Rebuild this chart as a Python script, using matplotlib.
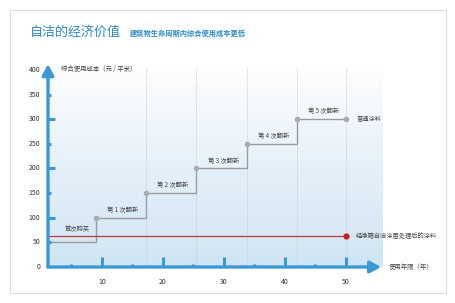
import numpy as np
import matplotlib
matplotlib.use("Agg")
import matplotlib.pyplot as plt
from matplotlib.patches import Rectangle, FancyArrowPatch
from matplotlib.colors import LinearSegmentedColormap

plt.rcParams['font.family'] = ['Noto Sans CJK SC', 'DejaVu Sans']

# ---- data ----
renew_years = [1.15, 9.0, 17.2, 25.4, 33.8, 42.0]       # start / renovation times
cost_levels = [50, 100, 150, 200, 250, 300]             # cumulative cost (元/平米)
end_year = 50
step_labels = ["首次购买", "第 1 次翻新", "第 2 次翻新", "第 3 次翻新", "第 4 次翻新", "第 5 次翻新"]
selfclean_cost = 63
x_ticks = [10, 20, 30, 40, 50]
y_ticks = [0, 50, 100, 150, 200, 250, 300, 350, 400]
series_normal = "普通涂料"
series_clean = "经净箱自洁涂层处理后的涂料"
title = "自洁的经济价值"
subtitle = "建筑物生命周期内综合使用成本更低"
ylabel = "综合使用成本（元 / 平米）"
xlabel = "使用年限（年）"

W, H = 455, 303
fig = plt.figure(figsize=(W / 100, H / 100), dpi=100)
fig.patch.set_facecolor("white")

# frame
fig.patches.append(Rectangle((10 / W, 10 / H), 436 / W, 283 / H, transform=fig.transFigure,
                             fill=False, edgecolor="#dcdcdc", lw=0.8))

fig.text(30 / W, 1 - 32 / H, title, fontsize=9.4, color="#2a8cc4", va="center", ha="left")
fig.text(130 / W, 1 - 33 / H, subtitle, fontsize=5.2, color="#2a8cc4", va="center", ha="left",
         fontweight="bold")

xmin, xmax = 1.15, 56.1
ymin, ymax = 0, 415
ax = fig.add_axes([48 / W, (H - 267) / H, (383 - 48) / W, (267 - 62.6) / H])
ax.set_xlim(xmin, xmax)
ax.set_ylim(ymin, ymax)
ax.axis("off")

# gradient background
grad = np.linspace(0, 1, 256).reshape(-1, 1)
cmap = LinearSegmentedColormap.from_list("bg", ["#cfe5f3", "#e6f1f9", "#ffffff"])
ax.imshow(grad, extent=[xmin, xmax, ymin, ymax], origin="lower", aspect="auto", cmap=cmap, zorder=0)

# dashed vertical gridlines
for xv in renew_years[2:] + [end_year]:
    ax.plot([xv, xv], [0, 405], ls=(0, (1.5, 1.5)), color="#c4c8cc", lw=0.6, zorder=1)

# step line (normal paint)
xs, ys = [], []
for i, (x0, lvl) in enumerate(zip(renew_years, cost_levels)):
    x1 = renew_years[i + 1] if i + 1 < len(renew_years) else end_year
    xs += [x0, x1]
    ys += [lvl, lvl]
ax.plot(xs, ys, color="#9a9ca0", lw=1.0, zorder=3, solid_joinstyle="miter")
ax.scatter(renew_years[1:] + [end_year], cost_levels[1:] + [cost_levels[-1]], s=16,
           color="#a9abb2", zorder=4, linewidths=0)

# step labels
for i, (x0, lvl, lab) in enumerate(zip(renew_years, cost_levels, step_labels)):
    x1 = renew_years[i + 1] if i + 1 < len(renew_years) else end_year
    off = 27 if i == 0 else 16
    xc = (x0 + x1) / 2 + (0.8 if i == 0 else 0.3)
    ax.text(xc, lvl + off, lab, fontsize=4.5, color="#444444", ha="center", va="center", zorder=5)

ax.text(end_year + 1.7, cost_levels[-1], series_normal, fontsize=4.5, color="#444444",
        ha="left", va="center", zorder=5)

# self-clean line
ax.plot([xmin, end_year], [selfclean_cost, selfclean_cost], color="#c0393b", lw=0.9, zorder=3)
ax.scatter([end_year], [selfclean_cost], s=20, color="#cc1f24", zorder=4, linewidths=0)
ax.text(end_year + 1.7, selfclean_cost, series_clean, fontsize=4.5, color="#444444",
        ha="left", va="center", zorder=5, clip_on=False)

axis_col = "#3a98d4"
# y ticks (inside, to the right)
for v in y_ticks:
    if v in (0, 400):
        pass
    elif v % 100 == 0:
        ax.plot([xmin, xmin + 1.2], [v, v], color=axis_col, lw=2.2, solid_capstyle="butt", zorder=6)
    else:
        ax.plot([xmin, xmin + 0.5], [v, v], color=axis_col, lw=2.2, solid_capstyle="butt", zorder=6)
    ax.text(xmin - 1.3, v, str(v), fontsize=5, color="#333333", ha="right", va="center",
            clip_on=False)

# x ticks (inside, upward)
for v in range(5, 55, 5):
    h = 20 if v % 10 == 0 else 7
    ax.plot([v, v], [0, h], color=axis_col, lw=2.2, solid_capstyle="butt", zorder=6)
for v in x_ticks:
    ax.text(v, -30, str(v), fontsize=5, color="#333333", ha="center", va="center", clip_on=False)

# axes with arrows
astyle = "-|>,head_length=2.6,head_width=1.4"
ax.add_patch(FancyArrowPatch((xmin, 0), (xmin, 412), arrowstyle=astyle,
                             color=axis_col, lw=2.4, mutation_scale=2.5, clip_on=False, zorder=7,
                             shrinkA=0, shrinkB=0))
ax.add_patch(FancyArrowPatch((xmin, 0), (55.8, 0), arrowstyle=astyle,
                             color=axis_col, lw=2.4, mutation_scale=2.5, clip_on=False, zorder=7,
                             shrinkA=0, shrinkB=0))

ax.text(xmin + 2.1, 402, ylabel, fontsize=4.6, color="#444444", ha="left", va="center", clip_on=False)
ax.text(57.1, 0, xlabel, fontsize=4.6, color="#444444", ha="left", va="center", clip_on=False)

fig.savefig("out.png", dpi=100, facecolor="white")
